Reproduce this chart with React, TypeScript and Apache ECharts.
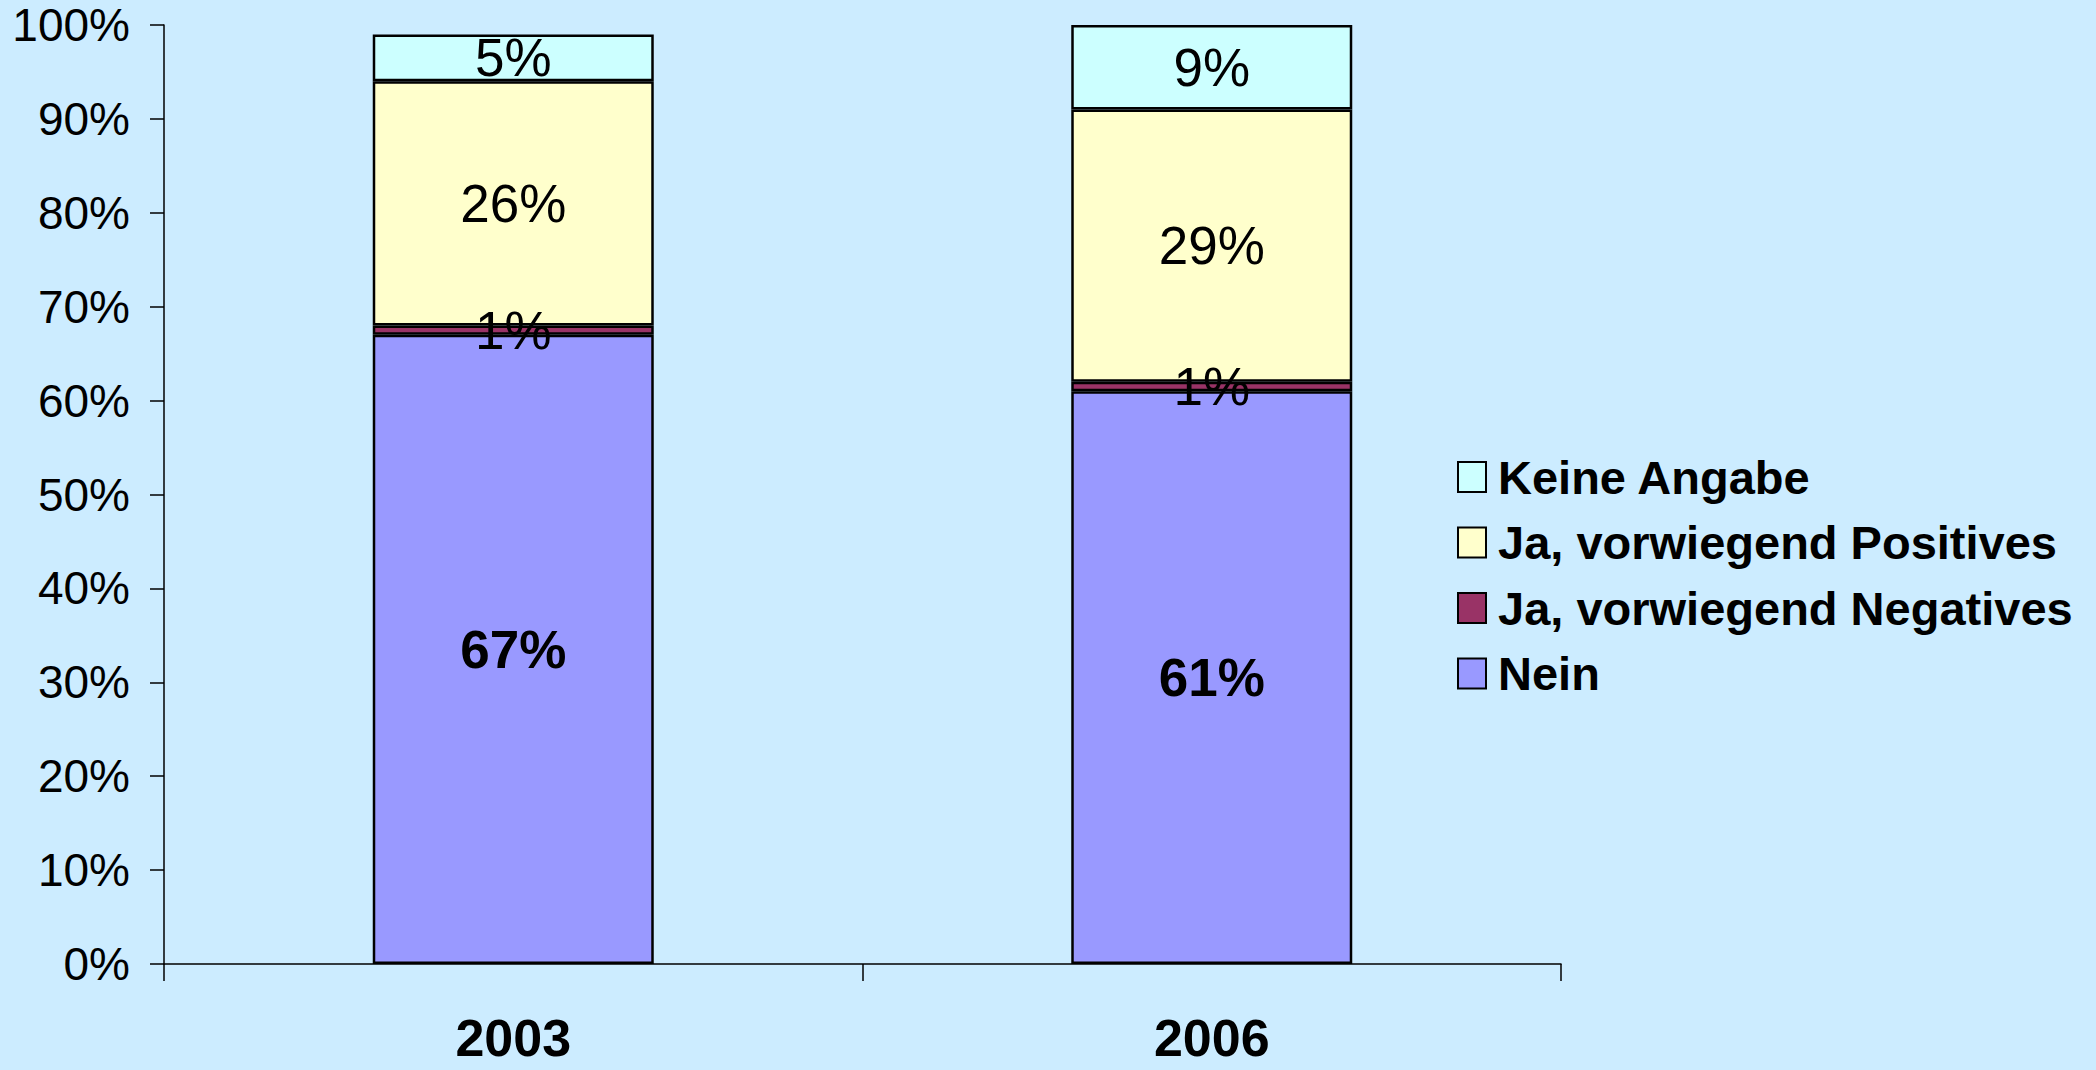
import React, { useEffect, useRef } from "react";
import * as echarts from "echarts";

const categories = ["2003", "2006"];
const nein = [67, 61];
const negatives = [1, 1];
const positives = [26, 29];
const keineAngabe = [5, 9];
const seriesNames = ["Nein", "Ja, vorwiegend Negatives", "Ja, vorwiegend Positives", "Keine Angabe"];
const legendOrder = ["Keine Angabe", "Ja, vorwiegend Positives", "Ja, vorwiegend Negatives", "Nein"];
const yTicks = [0, 10, 20, 30, 40, 50, 60, 70, 80, 90, 100];

const FONT = "'Liberation Sans', Arial, sans-serif";
const colors = ["#9999FF", "#993366", "#FFFFCC", "#CCFFFF"];

export default function App() {
  const ref = useRef<HTMLDivElement>(null);
  useEffect(() => {
    if (!ref.current) return;
    const chart = echarts.init(ref.current, undefined, { renderer: "svg" });
    const values = [nein, negatives, positives, keineAngabe];
    const series = seriesNames.map((name, i) => ({
      name,
      type: "bar",
      stack: "total",
      barWidth: 281,
      data: values[i],
      itemStyle: { color: colors[i], borderColor: "#000", borderWidth: 2.5 },
      label: {
        show: true,
        position: "inside",
        formatter: "{c}%",
        fontFamily: FONT,
        fontSize: 53,
        fontWeight: i === 0 ? "bold" : "normal",
        color: "#000",
      },
    }));
    chart.setOption({
      animation: false,
      backgroundColor: "#CCECFF",
      textStyle: { fontFamily: FONT },
      grid: { left: 164, right: 535, top: 25, bottom: 106, containLabel: false },
      legend: {
        orient: "vertical",
        left: 1452,
        top: 448,
        data: legendOrder,
        icon: "rect",
        itemWidth: 28,
        itemHeight: 30,
        itemGap: 17.5,
        textStyle: {
          fontFamily: FONT,
          fontSize: 47,
          fontWeight: "bold",
          color: "#000",
          lineHeight: 48,
          padding: [0, 0, 0, 7],
        },
      },
      xAxis: {
        type: "category",
        data: categories,
        boundaryGap: true,
        axisLine: { show: true, lineStyle: { color: "#000", width: 1.5 } },
        axisTick: { show: true, length: 17, lineStyle: { color: "#000", width: 1.5 } },
        axisLabel: {
          fontFamily: FONT,
          fontSize: 52,
          fontWeight: "bold",
          color: "#000",
          lineHeight: 40,
          margin: 54,
        },
      },
      yAxis: {
        type: "value",
        min: yTicks[0],
        max: yTicks[yTicks.length - 1],
        interval: 10,
        axisLine: { show: true, lineStyle: { color: "#000", width: 1.5 } },
        axisTick: { show: true, length: 14, lineStyle: { color: "#000", width: 1.5 } },
        splitLine: { show: false },
        axisLabel: {
          fontFamily: FONT,
          fontSize: 46,
          color: "#000",
          lineHeight: 40,
          margin: 34,
          formatter: "{value}%",
        },
      },
      series,
    });
    return () => chart.dispose();
  }, []);
  return (
    <div
      ref={ref}
      style={{ position: "fixed", left: 0, top: 0, width: 2096, height: 1070, background: "#CCECFF" }}
    />
  );
}
